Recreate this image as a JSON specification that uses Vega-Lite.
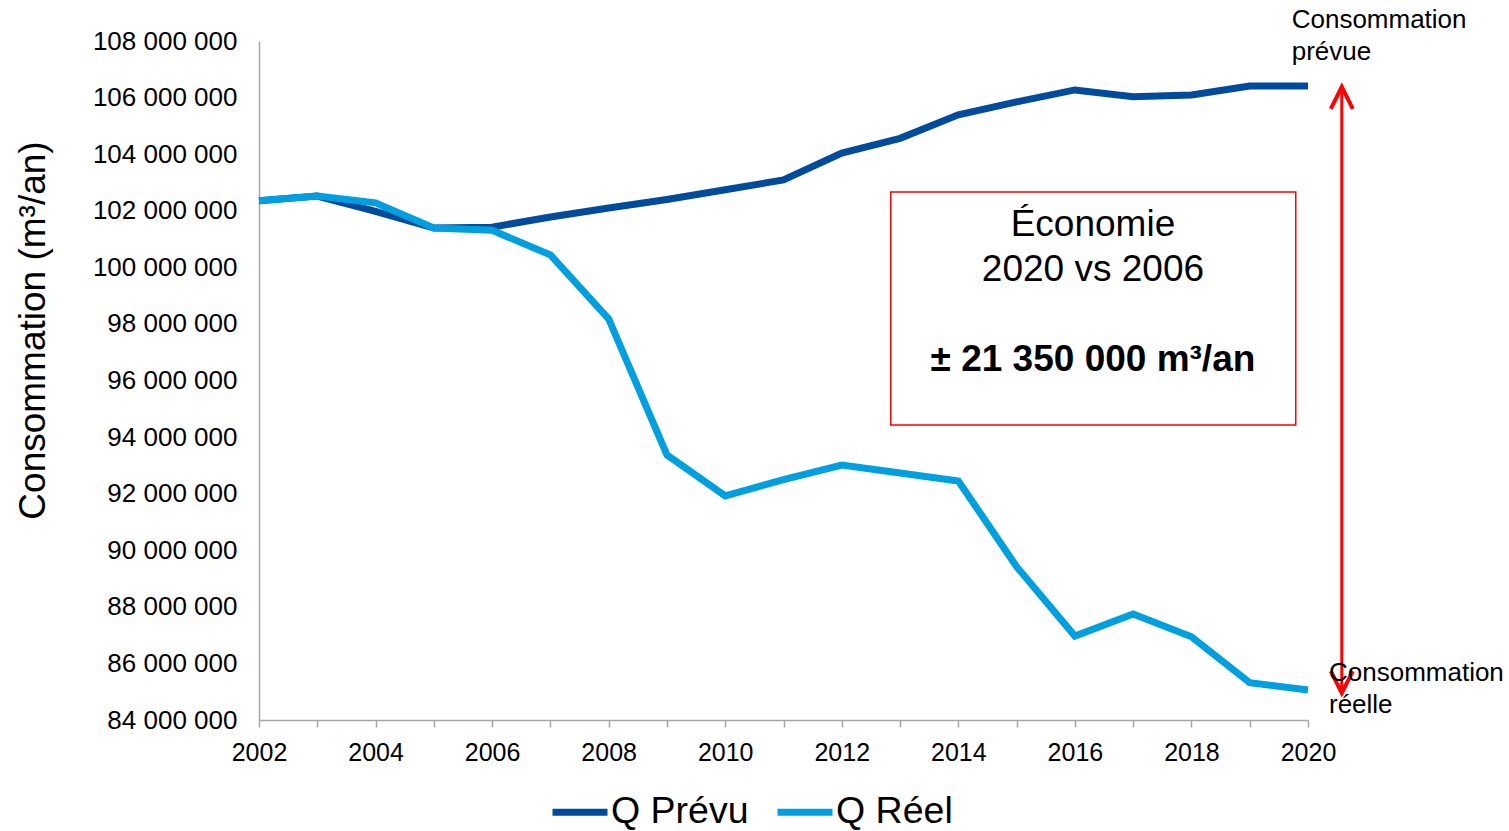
{
  "$schema": "https://vega.github.io/schema/vega-lite/v6.json",
  "width": 1049,
  "height": 679,
  "autosize": "none",
  "padding": {"left": 259, "top": 41, "right": 201, "bottom": 111},
  "background": "#ffffff",
  "config": {
    "font": "Liberation Sans",
    "view": {"stroke": null},
    "locale": {"number": {"decimal": ",", "thousands": " ", "grouping": [3], "currency": ["", " €"]}}
  },
  "datasets": {
    "series": [
      {"series": "Q Prévu", "year": 2002, "value": 102350000},
      {"series": "Q Prévu", "year": 2003, "value": 102520000},
      {"series": "Q Prévu", "year": 2004, "value": 101980000},
      {"series": "Q Prévu", "year": 2005, "value": 101390000},
      {"series": "Q Prévu", "year": 2006, "value": 101420000},
      {"series": "Q Prévu", "year": 2007, "value": 101780000},
      {"series": "Q Prévu", "year": 2008, "value": 102100000},
      {"series": "Q Prévu", "year": 2009, "value": 102400000},
      {"series": "Q Prévu", "year": 2010, "value": 102740000},
      {"series": "Q Prévu", "year": 2011, "value": 103090000},
      {"series": "Q Prévu", "year": 2012, "value": 104040000},
      {"series": "Q Prévu", "year": 2013, "value": 104560000},
      {"series": "Q Prévu", "year": 2014, "value": 105390000},
      {"series": "Q Prévu", "year": 2015, "value": 105850000},
      {"series": "Q Prévu", "year": 2016, "value": 106270000},
      {"series": "Q Prévu", "year": 2017, "value": 106030000},
      {"series": "Q Prévu", "year": 2018, "value": 106090000},
      {"series": "Q Prévu", "year": 2019, "value": 106410000},
      {"series": "Q Prévu", "year": 2020, "value": 106410000},
      {"series": "Q Réel", "year": 2002, "value": 102350000},
      {"series": "Q Réel", "year": 2003, "value": 102520000},
      {"series": "Q Réel", "year": 2004, "value": 102280000},
      {"series": "Q Réel", "year": 2005, "value": 101390000},
      {"series": "Q Réel", "year": 2006, "value": 101310000},
      {"series": "Q Réel", "year": 2007, "value": 100440000},
      {"series": "Q Réel", "year": 2008, "value": 98180000},
      {"series": "Q Réel", "year": 2009, "value": 93370000},
      {"series": "Q Réel", "year": 2010, "value": 91920000},
      {"series": "Q Réel", "year": 2011, "value": 92500000},
      {"series": "Q Réel", "year": 2012, "value": 93010000},
      {"series": "Q Réel", "year": 2013, "value": 92730000},
      {"series": "Q Réel", "year": 2014, "value": 92450000},
      {"series": "Q Réel", "year": 2015, "value": 89420000},
      {"series": "Q Réel", "year": 2016, "value": 86970000},
      {"series": "Q Réel", "year": 2017, "value": 87750000},
      {"series": "Q Réel", "year": 2018, "value": 86940000},
      {"series": "Q Réel", "year": 2019, "value": 85320000},
      {"series": "Q Réel", "year": 2020, "value": 85060000}
    ],
    "notes": [
      {"role": "box", "year": 2012.84, "value": 102660000, "year2": 2019.79, "value2": 94430000},
      {"role": "arrow", "year": 2020.58, "value": 106380000, "value2": 84950000},
      {"role": "tipUp", "year": 2020.58, "value": 106380000},
      {"role": "tipDown", "year": 2020.58, "value": 84950000},
      {"role": "boxTitle", "year": 2016.31, "value": 101500000, "label": "Économie"},
      {"role": "boxTitle", "year": 2016.31, "value": 99910000, "label": "2020 vs 2006"},
      {"role": "boxValue", "year": 2016.31, "value": 96730000, "label": "± 21 350 000 m³/an"},
      {"role": "side", "year": 2019.72, "value": 108740000, "label": "Consommation"},
      {"role": "side", "year": 2019.72, "value": 107610000, "label": "prévue"},
      {"role": "side", "year": 2020.36, "value": 85660000, "label": "Consommation"},
      {"role": "side", "year": 2020.36, "value": 84530000, "label": "réelle"}
    ]
  },
  "encoding": {
    "x": {
      "field": "year",
      "type": "quantitative",
      "scale": {"domain": [2002, 2020], "nice": false, "zero": false},
      "axis": {
        "title": null,
        "values": [2002, 2003, 2004, 2005, 2006, 2007, 2008, 2009, 2010, 2011, 2012, 2013, 2014, 2015, 2016, 2017, 2018, 2019, 2020],
        "labelExpr": "datum.value % 2 == 0 ? '' + datum.value : ''",
        "labelFontSize": 25,
        "labelColor": "#000000",
        "labelPadding": 13,
        "labelFlush": false,
        "labelOverlap": false,
        "tickColor": "#a6a6a6",
        "tickSize": 7,
        "tickWidth": 1.5,
        "grid": false,
        "domainColor": "#a6a6a6",
        "domainWidth": 1.5
      }
    },
    "y": {
      "field": "value",
      "type": "quantitative",
      "scale": {"domain": [84000000, 108000000], "nice": false, "zero": false},
      "axis": {
        "title": "Consommation (m³/an)",
        "titleFontSize": 37,
        "titleFontWeight": "normal",
        "titleColor": "#000000",
        "titleAngle": -90,
        "titleX": -226,
        "titleY": 289,
        "titleAlign": "center",
        "titleBaseline": "middle",
        "values": [84000000, 86000000, 88000000, 90000000, 92000000, 94000000, 96000000, 98000000, 100000000, 102000000, 104000000, 106000000, 108000000],
        "format": ",d",
        "labelFontSize": 26,
        "labelColor": "#000000",
        "labelPadding": 22,
        "ticks": false,
        "tickSize": 0,
        "grid": false,
        "domainColor": "#a6a6a6",
        "domainWidth": 1.5
      }
    }
  },
  "layer": [
    {
      "data": {"name": "series"},
      "mark": {"type": "line", "strokeWidth": 7},
      "encoding": {
        "color": {
          "field": "series",
          "type": "nominal",
          "scale": {"domain": ["Q Prévu", "Q Réel"], "range": ["#004B9B", "#009FE0"]},
          "legend": {
            "orient": "none",
            "legendX": 290,
            "legendY": 740,
            "direction": "horizontal",
            "title": null,
            "symbolType": "stroke",
            "symbolSize": 3025,
            "symbolStrokeWidth": 7,
            "labelFontSize": 37.5,
            "labelColor": "#000000",
            "labelOffset": 0,
            "columnPadding": 14
          }
        }
      }
    },
    {
      "data": {"name": "notes"},
      "transform": [{"filter": "datum.role == 'box'"}],
      "mark": {"type": "rect", "filled": false, "color": "#ff0000", "strokeWidth": 1.5},
      "encoding": {"x2": {"field": "year2"}, "y2": {"field": "value2"}}
    },
    {
      "data": {"name": "notes"},
      "transform": [{"filter": "datum.role == 'arrow'"}],
      "mark": {"type": "rule", "color": "#ff0000", "strokeWidth": 3},
      "encoding": {"y2": {"field": "value2"}}
    },
    {
      "data": {"name": "notes"},
      "transform": [{"filter": "datum.role == 'tipUp'"}],
      "mark": {"type": "point", "shape": "M-1,2L0,0L1,2", "filled": false, "color": "#ff0000", "strokeWidth": 4, "size": 484, "opacity": 1}
    },
    {
      "data": {"name": "notes"},
      "transform": [{"filter": "datum.role == 'tipDown'"}],
      "mark": {"type": "point", "shape": "M-1,-2L0,0L1,-2", "filled": false, "color": "#ff0000", "strokeWidth": 4, "size": 484, "opacity": 1}
    },
    {
      "data": {"name": "notes"},
      "transform": [{"filter": "datum.role == 'boxTitle'"}],
      "mark": {"type": "text", "fontSize": 37, "color": "#000000", "align": "center", "baseline": "middle"},
      "encoding": {"text": {"field": "label"}}
    },
    {
      "data": {"name": "notes"},
      "transform": [{"filter": "datum.role == 'boxValue'"}],
      "mark": {"type": "text", "fontSize": 37, "fontWeight": "bold", "color": "#000000", "align": "center", "baseline": "middle"},
      "encoding": {"text": {"field": "label"}}
    },
    {
      "data": {"name": "notes"},
      "transform": [{"filter": "datum.role == 'side'"}],
      "mark": {"type": "text", "fontSize": 26, "color": "#000000", "align": "left", "baseline": "middle"},
      "encoding": {"text": {"field": "label"}}
    }
  ]
}
